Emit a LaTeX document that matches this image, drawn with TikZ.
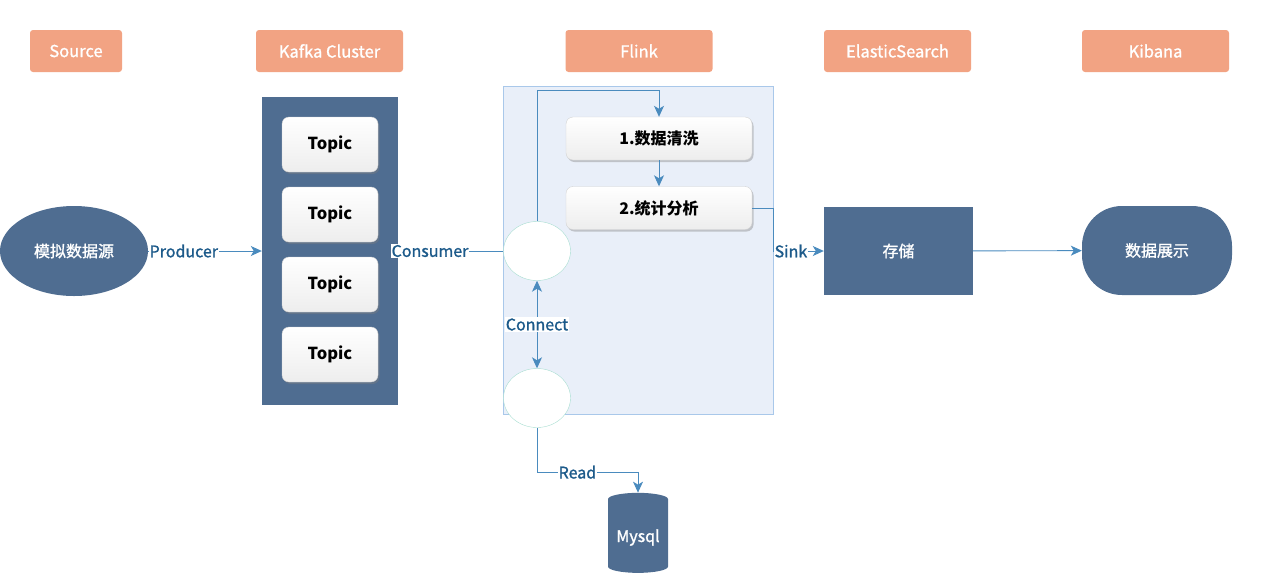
\documentclass[tikz,border=0pt]{standalone}
\usepackage{fontspec}
\setmainfont{Noto Sans CJK SC}
\newfontfamily\semib[FakeBold=1.2]{Noto Sans CJK SC}
\usetikzlibrary{arrows.meta,shapes.geometric,shadows}

\definecolor{hdr}{HTML}{F2A383}
\definecolor{navy}{HTML}{4F6D91}
\definecolor{wire}{HTML}{4A8BBE}
\definecolor{lbltxt}{HTML}{1C5A8A}
\definecolor{flinkbg}{HTML}{E9EFF9}
\definecolor{flinkline}{HTML}{A9C8EA}
\definecolor{ring}{HTML}{A6DDD0}

\tikzset{
  header/.style={rectangle, rounded corners=3pt, fill=hdr, text=white, minimum width=147pt, minimum height=42pt, font=\semib\fontsize{16.5}{16.5}\selectfont},
  dark/.style={fill=navy, text=white, font=\semib\fontsize{16}{16}\selectfont},
  topic/.style={rectangle, rounded corners=7pt, draw=gray!35, top color=white, bottom color=gray!14, minimum width=96pt, minimum height=55pt, font=\bfseries\fontsize{16.5}{16.5}\selectfont, drop shadow={shadow xshift=1.5pt, shadow yshift=-2pt, opacity=0.4}},
  stepbox/.style={topic, minimum width=186pt, minimum height=43pt, font=\bfseries\fontsize{16}{16}\selectfont},
  ring/.style={ellipse, draw=ring, fill=white, minimum width=67pt, minimum height=59pt},
  conn/.style={draw=wire, line width=0.9pt},
  lbl/.style={fill=white, text=lbltxt, inner sep=1pt, font=\semib\fontsize{16}{16}\selectfont}
}

\begin{document}
\begin{tikzpicture}[x=1pt, y=-1pt, >={Stealth[length=11pt,width=10pt,inset=3pt]}]
  \useasboundingbox (0,0) rectangle (1266,582);

  % column titles
  \node [header, minimum width=92pt] (hsrc) at (76,51) {Source};
  \node [header] (hkafka) at (329.5,51) {Kafka Cluster};
  \node [header] (hflink) at (639,51) {Flink};
  \node [header] (hes) at (897.5,51) {ElasticSearch};
  \node [header] (hkb) at (1155.5,51) {Kibana};

  \node [dark, ellipse, minimum width=148pt, minimum height=90pt] (src) at (74,251) {模拟数据源};

  \node [dark, minimum width=136pt, minimum height=308pt] (kafka) at (330,251) {};
  \foreach \i/\y in {1/144.5, 2/214.5, 3/284.5, 4/354.5}
    \node [topic] (t\i) at (330,\y) {Topic};

  \node [draw=flinkline, fill=flinkbg, minimum width=270pt, minimum height=328pt, inner sep=0] (flink) at (638,250) {};
  \node [ring] (c1) at (537,251) {};
  \node [ring] (c2) at (537,398) {};
  \node [stepbox] (b1) at (659,138.5) {1.数据清洗};
  \node [stepbox] (b2) at (659,208) {2.统计分析};

  \node [dark, minimum width=149pt, minimum height=88pt] (es) at (898.5,251) {存储};
  \node [dark, rounded corners=40pt, minimum width=150pt, minimum height=89pt] (kb) at (1157,250.5) {数据展示};

  \node [dark, cylinder, shape border rotate=90, aspect=0.25, minimum height=80pt, minimum width=60pt] (db) at (638,537.5) {Mysql};

  % connectors
  \draw [conn, ->] (src) -- node [lbl, pos=0, anchor=west] {Producer} (kafka);
  \draw [conn] (kafka) -- node [lbl, pos=0, anchor=west, xshift=-8pt] {Consumer} (c1);
  \draw [conn, ->] (c1.north) -- ++(0,-131) -| (b1.north);
  \draw [conn, ->] (b1) -- (b2);
  \draw [conn] (b2.east) -| (flink.east |- es.west);
  \draw [conn, ->] (flink.east |- es.west) -- node [lbl, pos=0, anchor=west] {Sink} (es.west);
  \draw [conn, <->] (c1) -- node [lbl] {Connect} (c2);
  \draw [conn, ->] (c2.south) -- ++(0,44.5) -| node [lbl, pos=0.2] {Read} (db.north);
  \draw [conn, ->] (es) -- (kb);
\end{tikzpicture}
\end{document}
